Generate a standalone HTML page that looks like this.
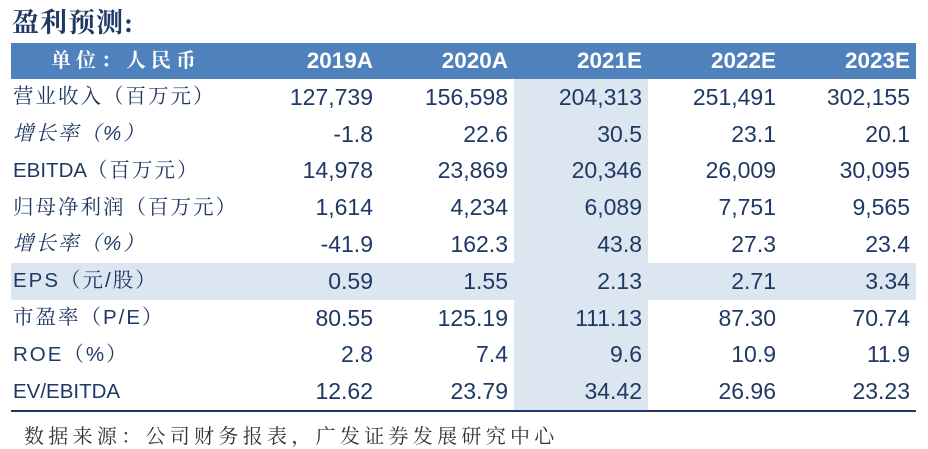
<!DOCTYPE html>
<html><head><meta charset="utf-8"><style>
body{margin:0;width:928px;height:449px;background:#fff;overflow:hidden;position:relative;font-family:"Liberation Sans","Noto Sans CJK SC",sans-serif;color:#1f3864}
.title{position:absolute;left:12px;top:1px;font-family:"Liberation Serif","Noto Serif CJK SC",serif;font-weight:bold;font-size:27px;color:#1f3864;letter-spacing:1px}
table{position:absolute;left:11px;top:43px;border-collapse:collapse;width:905px;table-layout:fixed}
td{height:36.8px;padding:0 6px 0 0;text-align:right;font-size:23px;white-space:nowrap;line-height:1}
tr.h td{height:36px;background:#4f81bd;color:#fff;font-weight:bold;font-size:22.5px}
tr.h td.l{text-align:center;font-family:"Liberation Serif","Noto Serif CJK SC",serif;font-size:20px;letter-spacing:5px}
td.l{text-align:left;padding-left:2px;font-family:"Liberation Sans","Noto Serif CJK SC",serif;font-size:20.5px;letter-spacing:2px}
.i td.l{font-style:italic}
td.c{background:#dce6f1}
tr.e td{background:#dce6f1}
tr.last td{border-bottom:2.5px solid #1f3864}
.src{position:absolute;left:24px;top:420px;font-family:"Liberation Serif","Noto Serif CJK SC",serif;font-size:20px;color:#333;letter-spacing:4.3px}
</style></head><body>
<div class="title">盈利预测:</div>
<table>
<colgroup><col style="width:234px"><col style="width:134px"><col style="width:135px"><col style="width:134px"><col style="width:134px"><col style="width:134px"></colgroup>
<tr class="h"><td class="l">单位：人民币</td><td>2019A</td><td>2020A</td><td>2021E</td><td>2022E</td><td>2023E</td></tr>
<tr><td class="l">营业收入（百万元）</td><td>127,739</td><td>156,598</td><td class="c">204,313</td><td>251,491</td><td>302,155</td></tr>
<tr class="i"><td class="l">增长率（%）</td><td>-1.8</td><td>22.6</td><td class="c">30.5</td><td>23.1</td><td>20.1</td></tr>
<tr><td class="l"><span style="letter-spacing:0">EBITDA</span>（百万元）</td><td>14,978</td><td>23,869</td><td class="c">20,346</td><td>26,009</td><td>30,095</td></tr>
<tr><td class="l">归母净利润（百万元）</td><td>1,614</td><td>4,234</td><td class="c">6,089</td><td>7,751</td><td>9,565</td></tr>
<tr class="i"><td class="l">增长率（%）</td><td>-41.9</td><td>162.3</td><td class="c">43.8</td><td>27.3</td><td>23.4</td></tr>
<tr class="e"><td class="l">EPS（元/股）</td><td>0.59</td><td>1.55</td><td class="c">2.13</td><td>2.71</td><td>3.34</td></tr>
<tr><td class="l">市盈率（P/E）</td><td>80.55</td><td>125.19</td><td class="c">111.13</td><td>87.30</td><td>70.74</td></tr>
<tr><td class="l">ROE（%）</td><td>2.8</td><td>7.4</td><td class="c">9.6</td><td>10.9</td><td>11.9</td></tr>
<tr class="last"><td class="l"><span style="letter-spacing:0">EV/EBITDA</span></td><td>12.62</td><td>23.79</td><td class="c">34.42</td><td>26.96</td><td>23.23</td></tr>
</table>
<div class="src">数据来源：公司财务报表，广发证券发展研究中心</div>
</body></html>
